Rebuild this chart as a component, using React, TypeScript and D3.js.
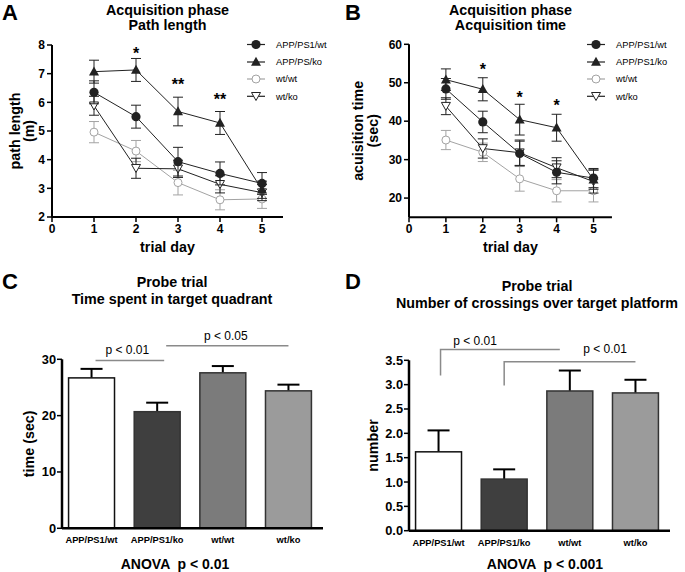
import React from "react";
import * as d3 from "d3";

// ---------- DATA ----------
const days = [1, 2, 3, 4, 5];

// Panel A: path length (m)
const pathWt = [6.35, 5.5, 3.93, 3.52, 3.17];
const pathWtErr = [0.4, 0.4, 0.5, 0.4, 0.38];
const pathKo = [7.07, 7.13, 5.68, 5.28, 2.95];
const pathKoErr = [0.4, 0.4, 0.5, 0.4, 0.3];
const pathWtWt = [4.96, 4.3, 3.2, 2.6, 2.63];
const pathWtWtErr = [0.37, 0.37, 0.43, 0.35, 0.33];
const pathWtKo = [5.88, 3.7, 3.68, 3.14, 2.85];
const pathWtKoErr = [0.33, 0.35, 0.3, 0.3, 0.28];

// Panel B: acquisition time (sec)
const timeWt = [48.4, 39.8, 31.6, 26.7, 25.2];
const timeWtErr = [2.7, 2.8, 3.2, 3.0, 2.5];
const timeKo = [50.8, 48.3, 40.4, 38.3, 24.8];
const timeKoErr = [2.8, 3.0, 4.0, 3.5, 2.5];
const timeWtWt = [35.1, 31.9, 25.0, 21.9, 21.9];
const timeWtWtErr = [2.5, 2.4, 3.2, 2.9, 2.9];
const timeWtKo = [43.9, 32.9, 31.8, 27.9, 24.3];
const timeWtKoErr = [2.2, 2.5, 3.3, 2.6, 3.0];

const legendA = ["APP/PS1/wt", "APP/PS/ko", "wt/wt", "wt/ko"];
const legendB = ["APP/PS1/wt", "APP/PS1/ko", "wt/wt", "wt/ko"];

const starDays = [2, 3, 4];
const starsA = ["*", "**", "**"];
const starLevelA = [7.83, 6.75, 6.22];
const starsB = ["*", "*", "*"];
const starLevelB = [54.3, 47.0, 45.0];

const ticksA = [2, 3, 4, 5, 6, 7, 8];
const ticksB = [20, 30, 40, 50, 60];
const ticksX = [0, 1, 2, 3, 4, 5];

// Panels C, D
const groups = ["APP/PS1/wt", "APP/PS1/ko", "wt/wt", "wt/ko"];
const quadrantTime = [26.7, 20.7, 27.6, 24.4];
const quadrantErr = [1.6, 1.6, 1.2, 1.1];
const crossings = [1.62, 1.06, 2.87, 2.83];
const crossingsErr = [0.44, 0.2, 0.42, 0.27];
const ticksC = [0, 10, 20, 30];
const ticksD = [0, 0.5, 1, 1.5, 2, 2.5, 3, 3.5];

// ---------- STYLE ----------
const FF = "'Liberation Sans', Arial, Helvetica, sans-serif";
const DARK = "#222";
const GREY = "#a3a3a3";
const barFills = ["#ffffff", "#3f3f3f", "#7b7b7b", "#9b9b9b"];

type MarkerType = "circle" | "triangle" | "ocircle" | "dtriangle";

function Marker({ type, x, y, color }: { type: MarkerType; x: number; y: number; color: string }) {
  if (type === "circle") return <circle cx={x} cy={y} r={4.6} fill={DARK} />;
  if (type === "ocircle") return <circle cx={x} cy={y} r={4} fill="#fff" stroke={color} strokeWidth={1} />;
  if (type === "triangle")
    return <path d={`M${x},${y - 5.2}L${x + 5},${y + 3.8}L${x - 5},${y + 3.8}Z`} fill={DARK} />;
  return (
    <path d={`M${x - 4.5},${y - 3.8}L${x + 4.5},${y - 3.8}L${x},${y + 4.2}Z`} fill="#fff" stroke={color} strokeWidth={1} />
  );
}

type Series = { values: number[]; errors: number[]; marker: MarkerType; color: string };

function LinePanel({
  x, y, yTicks, series, legend, legendX, stars, starLevels, letter, letterX,
  title1, title2, ylab1, ylab2, ylabX1, ylabX2,
}: any) {
  const [x0, x1] = [x(0), x(5.5)];
  const [yb, yt] = [y.range()[0], y.range()[1]];
  const line = d3.line<number>().x((_, i) => x(days[i])).y((v) => y(v));
  const cx = (x0 + x1) / 2;
  const cy = (yb + yt) / 2;
  const order = [2, 3, 0, 1];
  return (
    <g fontFamily={FF}>
      <text x={letterX} y={20} fontSize={22} fontWeight="bold">{letter}</text>
      <text x={cx} y={15} textAnchor="middle" fontSize={14.3} fontWeight="bold">{title1}</text>
      <text x={cx} y={30} textAnchor="middle" fontSize={14.3} fontWeight="bold">{title2}</text>
      {order.map((si) => {
        const s: Series = series[si];
        return (
          <g key={si}>
            {s.values.map((v, i) => {
              const px = x(days[i]);
              const t = y(v + s.errors[i]);
              const b = y(v - s.errors[i]);
              return (
                <g key={i} stroke={s.color} strokeWidth={1}>
                  <line x1={px} x2={px} y1={t} y2={b} />
                  <line x1={px - 5} x2={px + 5} y1={t} y2={t} />
                  <line x1={px - 5} x2={px + 5} y1={b} y2={b} />
                </g>
              );
            })}
            <path d={line(s.values) || ""} fill="none" stroke={s.color} strokeWidth={1} />
            {s.values.map((v, i) => (
              <Marker key={i} type={s.marker} x={x(days[i])} y={y(v)} color={s.color} />
            ))}
          </g>
        );
      })}
      <line x1={x0} x2={x0} y1={yb} y2={yt} stroke="#000" strokeWidth={2} />
      <line x1={x0} x2={x1} y1={yb} y2={yb} stroke="#000" strokeWidth={2} />
      {yTicks.map((t: number) => (
        <g key={t}>
          <line x1={x0 - 5} x2={x0} y1={y(t)} y2={y(t)} stroke="#000" strokeWidth={1.5} />
          <text x={x0 - 7} y={y(t) + 4.3} textAnchor="end" fontSize={12} fontWeight="bold">{t}</text>
        </g>
      ))}
      {ticksX.map((t) => (
        <g key={t}>
          <line x1={x(t)} x2={x(t)} y1={yb} y2={yb + 5} stroke="#000" strokeWidth={1.5} />
          <text x={x(t)} y={yb + 16} textAnchor="middle" fontSize={12} fontWeight="bold">{t}</text>
        </g>
      ))}
      <text x={cx} y={yb + 35} textAnchor="middle" fontSize={14.3} fontWeight="bold">trial day</text>
      <text transform={`translate(${ylabX1},${cy}) rotate(-90)`} textAnchor="middle" fontSize={14.3} fontWeight="bold">{ylab1}</text>
      <text transform={`translate(${ylabX2},${cy}) rotate(-90)`} textAnchor="middle" fontSize={14.3} fontWeight="bold">{ylab2}</text>
      {starDays.map((d, i) => (
        <text key={d} x={x(d)} y={y(starLevels[i]) + 9} textAnchor="middle" fontSize={16} fontWeight="bold">{stars[i]}</text>
      ))}
      {legend.map((lab: string, i: number) => {
        const ly = [44.5, 62, 79, 96.3][i];
        const s: Series = series[i];
        return (
          <g key={lab}>
            <line x1={legendX} x2={legendX + 18} y1={ly} y2={ly} stroke={s.color} strokeWidth={1.2} />
            <Marker type={s.marker} x={legendX + 9} y={ly} color={s.color} />
            <text x={legendX + 29} y={ly + 3.3} fontSize={9.3}>{lab}</text>
          </g>
        );
      })}
    </g>
  );
}

function BarPanel({
  xr, y, yTicks, fmt, values, errors, letter, letterX, title1, title2, t1y, t2y, titleX,
  ylab, ylabX, anova, anovaX, children,
}: any) {
  const xb = d3.scaleBand<string>().domain(groups).range(xr).paddingInner(0.3).paddingOuter(0.1);
  const [x0, x1] = [xr[0], xr[1] + 5];
  const [yb, yt] = [y.range()[0], y.range()[1]];
  const bw = xb.bandwidth();
  return (
    <g fontFamily={FF}>
      <text x={letterX} y={289} fontSize={22} fontWeight="bold">{letter}</text>
      <text x={titleX} y={t1y} textAnchor="middle" fontSize={14.3} fontWeight="bold">{title1}</text>
      <text x={titleX} y={t2y} textAnchor="middle" fontSize={14.3} fontWeight="bold">{title2}</text>
      {values.map((v: number, i: number) => {
        const g = groups[i];
        const bx = xb(g)!;
        const c = bx + bw / 2;
        const t = y(v + errors[i]);
        return (
          <g key={g}>
            <line x1={c} x2={c} y1={y(v)} y2={t} stroke="#000" strokeWidth={2} />
            <line x1={c - 11} x2={c + 11} y1={t} y2={t} stroke="#000" strokeWidth={2} />
            <rect x={bx} y={y(v)} width={bw} height={yb - y(v)} fill={barFills[i]} stroke={i === 0 ? "#111" : "#333"} strokeWidth={1.5} />
            <text x={c} y={yb + 15} textAnchor="middle" fontSize={9.3} fontWeight="bold">{g}</text>
          </g>
        );
      })}
      <line x1={x0} x2={x0} y1={yb} y2={yt} stroke="#000" strokeWidth={2.5} />
      <line x1={x0} x2={x1} y1={yb} y2={yb} stroke="#000" strokeWidth={2.5} />
      {yTicks.map((t: number) => (
        <g key={t}>
          <line x1={x0 - 5} x2={x0} y1={y(t)} y2={y(t)} stroke="#000" strokeWidth={1.5} />
          <text x={x0 - 6} y={y(t) + 4.5} textAnchor="end" fontSize={12.8} fontWeight="bold">{fmt(t)}</text>
        </g>
      ))}
      <text transform={`translate(${ylabX},${(yb + yt) / 2}) rotate(-90)`} textAnchor="middle" fontSize={14.3} fontWeight="bold">{ylab}</text>
      <text x={anovaX} y={569} textAnchor="middle" fontSize={14} fontWeight="bold" xmlSpace="preserve">{anova}</text>
      {children(xb)}
    </g>
  );
}

export default function App() {
  const xA = d3.scaleLinear().domain([0, 5]).range([52, 262]);
  const yA = d3.scaleLinear().domain([2, 8]).range([217, 45]);
  const xB = d3.scaleLinear().domain([0, 5]).range([409, 593.5]);
  const yB = d3.scaleLinear().domain([15, 60]).range([217.3, 44.3]);
  const yC = d3.scaleLinear().domain([0, 30]).range([528.3, 359.3]);
  const yD = d3.scaleLinear().domain([0, 3.5]).range([530.7, 360.3]);

  const seriesA: Series[] = [
    { values: pathWt, errors: pathWtErr, marker: "circle", color: DARK },
    { values: pathKo, errors: pathKoErr, marker: "triangle", color: DARK },
    { values: pathWtWt, errors: pathWtWtErr, marker: "ocircle", color: GREY },
    { values: pathWtKo, errors: pathWtKoErr, marker: "dtriangle", color: DARK },
  ];
  const seriesB: Series[] = [
    { values: timeWt, errors: timeWtErr, marker: "circle", color: DARK },
    { values: timeKo, errors: timeKoErr, marker: "triangle", color: DARK },
    { values: timeWtWt, errors: timeWtWtErr, marker: "ocircle", color: GREY },
    { values: timeWtKo, errors: timeWtKoErr, marker: "dtriangle", color: DARK },
  ];
  const sig = "#8a8a8a";

  return (
    <svg width={685} height={572} style={{ position: "absolute", left: 0, top: 0, background: "#fff" }}>
      <rect width={685} height={572} fill="#fff" />
      <LinePanel x={xA} y={yA} yTicks={ticksA} series={seriesA} legend={legendA} legendX={247}
        stars={starsA} starLevels={starLevelA} letter="A" letterX={2}
        title1="Acquisition phase" title2="Path length" ylab1="path length" ylab2="(m)" ylabX1={20} ylabX2={34} />
      <LinePanel x={xB} y={yB} yTicks={ticksB} series={seriesB} legend={legendB} legendX={587}
        stars={starsB} starLevels={starLevelB} letter="B" letterX={345}
        title1="Acquisition phase" title2="Acquisition time" ylab1="acuisition time" ylab2="(sec)" ylabX1={363} ylabX2={378} />
      <BarPanel xr={[62, 318]} y={yC} yTicks={ticksC} fmt={(t: number) => String(t)} values={quadrantTime} errors={quadrantErr}
        letter="C" letterX={2} title1="Probe trial" title2="Time spent in target quadrant" t1y={287} t2y={304} titleX={172}
        ylab="time (sec)" ylabX={34} anova="ANOVA  p < 0.01" anovaX={175}>
        {(xb: any) => {
          const c = (i: number) => xb(groups[i]) + xb.bandwidth() / 2;
          return (
            <g fontSize={12} fill="#000" fontFamily={FF}>
              <line x1={c(0) + 4} x2={c(1) + 7} y1={yC(29.8)} y2={yC(29.8)} stroke={sig} strokeWidth={1.5} />
              <text x={(c(0) + c(1)) / 2 + 3} y={354} textAnchor="middle">p &lt; 0.01</text>
              <line x1={c(1) + 9} x2={c(3)} y1={yC(32.4)} y2={yC(32.4)} stroke={sig} strokeWidth={1.5} />
              <text x={(c(1) + c(3)) / 2 + 3} y={340} textAnchor="middle">p &lt; 0.05</text>
            </g>
          );
        }}
      </BarPanel>
      <BarPanel xr={[409, 665]} y={yD} yTicks={ticksD} fmt={d3.format(".1f")} values={crossings} errors={crossingsErr}
        letter="D" letterX={345} title1="Probe trial" title2="Number of crossings over target platform" t1y={291} t2y={308} titleX={537}
        ylab="number" ylabX={378} anova="ANOVA  p < 0.001" anovaX={545}>
        {(xb: any) => {
          const c = (i: number) => xb(groups[i]) + xb.bandwidth() / 2;
          return (
            <g fontSize={12} fill="#000" fontFamily={FF}>
              <path d={`M${c(0) + 2},${yD(3.19)}V${yD(3.72)}H${c(2) - 10}`} fill="none" stroke={sig} strokeWidth={1.5} />
              <text x={475} y={345} textAnchor="middle">p &lt; 0.01</text>
              <path d={`M${c(1)},${yD(2.98)}V${yD(3.47)}H${c(3)}`} fill="none" stroke={sig} strokeWidth={1.5} />
              <text x={605} y={353} textAnchor="middle">p &lt; 0.01</text>
            </g>
          );
        }}
      </BarPanel>
    </svg>
  );
}
